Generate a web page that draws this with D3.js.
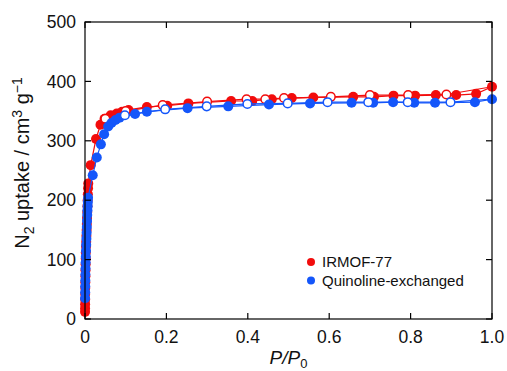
<!DOCTYPE html>
<html>
<head>
<meta charset="utf-8">
<script src="https://cdn.jsdelivr.net/npm/d3@7"></script>
<style>
  body { margin: 0; background: #fff; }
  text { font-family: "Liberation Sans", Arial, sans-serif; fill: #111; }
</style>
</head>
<body>
<div id="chart"></div>
<script>
// IRMOF-77 adsorption (filled) / desorption (open)
const irmofAdsP = [0.0001,0.0002,0.0003,0.0004,0.0005,0.0006,0.0008,0.001,0.0012,0.0015,0.0018,0.002,0.0025,0.003,0.0035,0.004,0.0045,0.005,0.0055,0.006,0.0065,0.007,0.0075,0.008,0.014,0.027,0.038,0.048,0.063,0.078,0.091,0.107,0.152,0.202,0.254,0.359,0.411,0.459,0.508,0.561,0.659,0.71,0.758,0.811,0.862,0.912,0.961,1.0];
const irmofAdsV = [12,18,25,33,42,52,62,72,82,92,102,112,122,130,140,150,160,170,180,190,200,210,220,228,259,303,327,337,343,346,349,352,357,359,363,367,367,370,372,373,374,374,376,376,377,377,379,391];
const irmofDesP = [1.0,0.888,0.794,0.70,0.604,0.489,0.443,0.397,0.30,0.191,0.10,0.05];
const irmofDesV = [391,378,377,377,374,372,370,370,366,360,350,337];

// Quinoline-exchanged adsorption (filled) / desorption (open)
const quinAdsP = [0.0002,0.0004,0.0006,0.0008,0.001,0.0013,0.0016,0.002,0.0025,0.003,0.0035,0.004,0.0045,0.005,0.0055,0.006,0.0065,0.007,0.0075,0.019,0.029,0.039,0.047,0.057,0.065,0.075,0.085,0.123,0.152,0.252,0.352,0.452,0.553,0.655,0.708,0.757,0.809,0.86,0.958,1.0];
const quinAdsV = [35,45,55,65,75,85,95,105,115,125,135,145,155,165,175,183,190,197,204,242,272,294,311,324,330,335,339,345,349,355,358,361,363,364,364,365,364,364,365,370];
const quinDesP = [1.0,0.898,0.793,0.696,0.596,0.498,0.399,0.299,0.197,0.098];
const quinDesV = [370,365,365,365,365,363,362,358,353,343];

const xTicks = [0, 0.2, 0.4, 0.6, 0.8, 1.0];
const xTickLabels = ['0', '0.2', '0.4', '0.6', '0.8', '1.0'];
const yTicks = [0, 100, 200, 300, 400, 500];

const seriesNames = ['IRMOF-77', 'Quinoline-exchanged'];
const seriesColors = ['#f20c0c', '#1456fa'];

const W = 507, H = 371,
      m = { left: 85, top: 22, right: 15, bottom: 52 },
      iw = W - m.left - m.right,
      ih = H - m.top - m.bottom;

const svg = d3.select('#chart').append('svg')
  .attr('width', W).attr('height', H);

const x = d3.scaleLinear().domain([0, 1]).range([m.left, m.left + iw]);
const y = d3.scaleLinear().domain([0, 500]).range([m.top + ih, m.top]);

const zip = (ps, vs) => ps.map((p, i) => [p, vs[i]]);
const series = [
  { color: seriesColors[0], ads: zip(irmofAdsP, irmofAdsV), des: zip(irmofDesP, irmofDesV) },
  { color: seriesColors[1], ads: zip(quinAdsP, quinAdsV), des: zip(quinDesP, quinDesV) }
];

const line = d3.line().x(d => x(d[0])).y(d => y(d[1]));
const r = 5;

series.forEach(s => {
  const g = svg.append('g');
  g.append('path').datum(s.ads).attr('d', line)
    .attr('fill', 'none').attr('stroke', s.color).attr('stroke-width', 1.2);
  g.append('path').datum(s.des).attr('d', line)
    .attr('fill', 'none').attr('stroke', s.color).attr('stroke-width', 1.2);
  g.selectAll('circle.ads').data(s.ads).enter().append('circle')
    .attr('cx', d => x(d[0])).attr('cy', d => y(d[1])).attr('r', r)
    .attr('fill', s.color);
  g.selectAll('circle.des').data(s.des.slice(1)).enter().append('circle')
    .attr('cx', d => x(d[0])).attr('cy', d => y(d[1])).attr('r', r - 0.7)
    .attr('fill', '#fff').attr('stroke', s.color).attr('stroke-width', 1.5);
});

// frame and inward ticks on all four sides
const ax = svg.append('g').attr('stroke', '#000').attr('stroke-width', 1.2);
ax.append('rect')
  .attr('x', m.left).attr('y', m.top).attr('width', iw).attr('height', ih)
  .attr('fill', 'none');
const tl = 6;
xTicks.forEach(t => {
  ax.append('line').attr('x1', x(t)).attr('x2', x(t)).attr('y1', m.top + ih).attr('y2', m.top + ih - tl);
  ax.append('line').attr('x1', x(t)).attr('x2', x(t)).attr('y1', m.top).attr('y2', m.top + tl);
});
yTicks.forEach(t => {
  ax.append('line').attr('x1', m.left).attr('x2', m.left + tl).attr('y1', y(t)).attr('y2', y(t));
  ax.append('line').attr('x1', m.left + iw).attr('x2', m.left + iw - tl).attr('y1', y(t)).attr('y2', y(t));
});

svg.append('g').selectAll('text').data(xTicks).enter().append('text')
  .attr('x', d => x(d)).attr('y', m.top + ih + 24)
  .attr('text-anchor', 'middle').attr('font-size', 17.5)
  .text((d, i) => xTickLabels[i]);

svg.append('g').selectAll('text').data(yTicks).enter().append('text')
  .attr('x', m.left - 9).attr('y', d => y(d)).attr('dy', '0.35em')
  .attr('text-anchor', 'end').attr('font-size', 17.5)
  .text(d => d);

// axis titles
const xl = svg.append('text')
  .attr('x', x(0.5)).attr('y', 364)
  .attr('text-anchor', 'middle').attr('font-size', 19).attr('font-style', 'italic');
xl.append('tspan').text('P/P');
xl.append('tspan').attr('dy', 3.5).attr('font-size', 13).attr('font-style', 'normal').text('0');

const yl = svg.append('text')
  .attr('transform', 'translate(29,163) rotate(-90)')
  .attr('text-anchor', 'middle').attr('font-size', 20);
yl.append('tspan').text('N');
yl.append('tspan').attr('dy', 5).attr('font-size', 14).text('2');
yl.append('tspan').attr('dy', -5).text(' uptake / cm');
yl.append('tspan').attr('dy', -7).attr('font-size', 14).text('3');
yl.append('tspan').attr('dy', 7).text(' g');
yl.append('tspan').attr('dy', -7).attr('font-size', 14).text('\u22121');

// legend
const lg = svg.append('g');
seriesNames.forEach((n, i) => {
  lg.append('circle').attr('cx', 311).attr('cy', 262 + i * 18.5).attr('r', 4)
    .attr('fill', seriesColors[i]);
  lg.append('text').attr('x', 322).attr('y', 262 + i * 18.5).attr('dy', '0.36em')
    .attr('font-size', 15).text(n);
});
</script>
</body>
</html>
